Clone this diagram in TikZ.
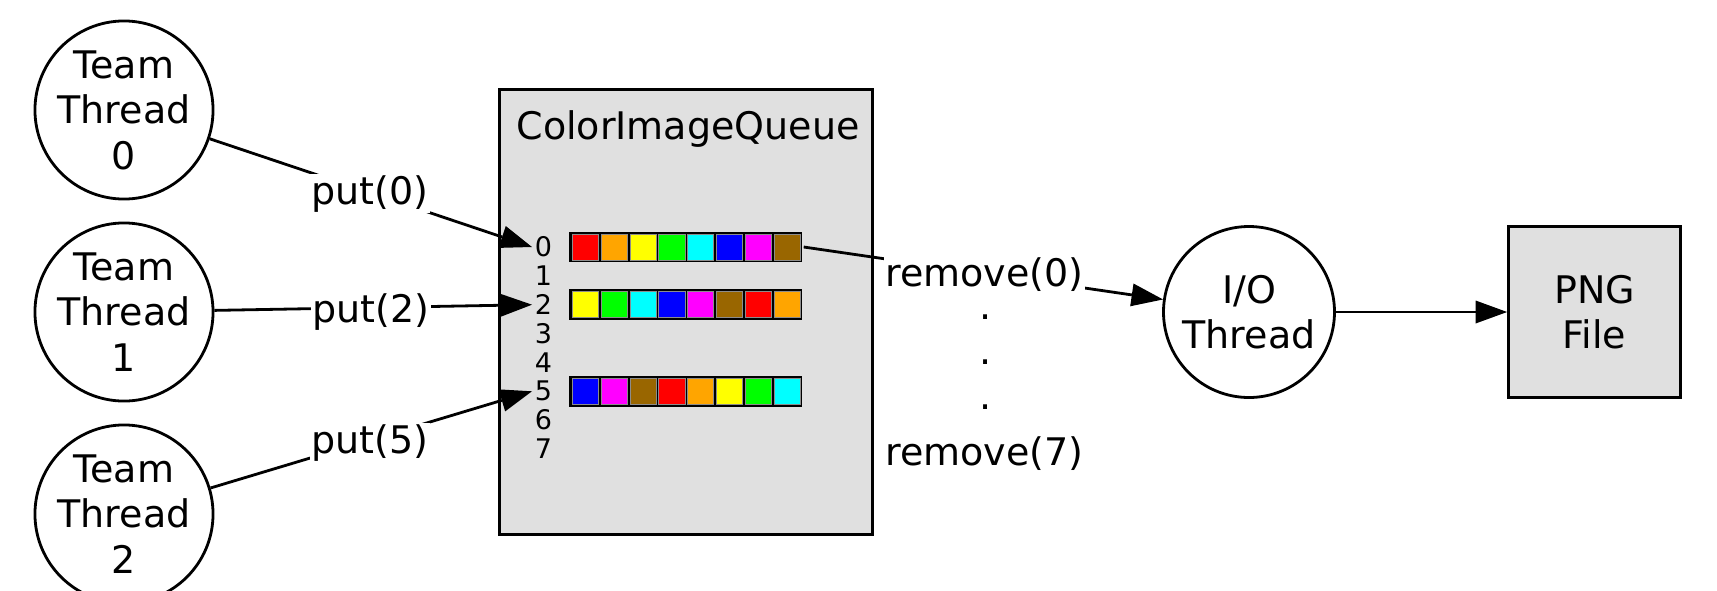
\documentclass[tikz,border=0pt]{standalone}
\usepackage{fontspec}
\setmainfont{DejaVu Sans}
\usetikzlibrary{arrows.meta}

\definecolor{qgray}{HTML}{E0E0E0}
\definecolor{cRed}{HTML}{FF0000}
\definecolor{cOrange}{HTML}{FFA500}
\definecolor{cYellow}{HTML}{FFFF00}
\definecolor{cGreen}{HTML}{00FF00}
\definecolor{cCyan}{HTML}{00FFFF}
\definecolor{cBlue}{HTML}{0000FF}
\definecolor{cMagenta}{HTML}{FF00FF}
\definecolor{cBrown}{HTML}{996600}

\begin{document}
\begin{tikzpicture}[x=1pt,y=-1pt,
  line width=2.8pt,
  bigfont/.style={font=\fontsize{38}{45.5}\selectfont},
  smallfont/.style={font=\fontsize{27}{29}\selectfont},
  thread/.style={circle,draw,minimum size=171pt,inner sep=0pt,align=center,bigfont},
  filebox/.style={rectangle,draw,fill=qgray,minimum width=172pt,minimum height=171pt,inner sep=0pt,align=center,bigfont},
  queuebox/.style={rectangle,draw,fill=qgray,minimum width=373pt,minimum height=445pt,inner sep=0pt},
  edgelabel/.style={fill=white,inner sep=1.5pt,bigfont},
  slotnum/.style={smallfont,inner sep=0pt,anchor=base},
  colorbar/.style={rectangle,fill=black,minimum width=233pt,minimum height=30.6pt,inner sep=0pt},
  cell/.style={draw=black!45,line width=0.8pt},
  flow/.style={-{Triangle[length=31.5pt,width=23pt,line width=0pt]}},
]
\useasboundingbox (0,0) rectangle (1717,590);

% producer threads
\node[thread] (t0) at (124,110) {Team\\Thread\\0};
\node[thread] (t1) at (124,312) {Team\\Thread\\1};
\node[thread] (t2) at (124,514) {Team\\Thread\\2};

% the queue with its eight slots
\node[queuebox] (queue) at (686,312) {};
\node[bigfont,anchor=base] (qtitle) at (688,139) {ColorImageQueue};
\foreach \k in {0,...,7}
  \node[slotnum] (n\k) at (543.5,256.7+28.85*\k) {\k};

\node[colorbar] (bar0) at (685.8,247) {};
\node[colorbar] (bar2) at (685.8,304.7) {};
\node[colorbar] (bar5) at (685.8,391.25) {};
\foreach \yc/\cols in {
    247/{cRed,cOrange,cYellow,cGreen,cCyan,cBlue,cMagenta,cBrown},
    304.7/{cYellow,cGreen,cCyan,cBlue,cMagenta,cBrown,cRed,cOrange},
    391.25/{cBlue,cMagenta,cBrown,cRed,cOrange,cYellow,cGreen,cCyan}}
  \foreach \c [count=\i from 0] in \cols
    \filldraw[cell,fill=\c] (572.2+28.86*\i,\yc-13) rectangle ++(26.2,26);

% slot ports
\coordinate (p0) at (532,247);
\coordinate (p2) at (532,304.7);
\coordinate (p5) at (532,391.3);

% consumer side
\node[thread] (io) at (1249,312) {I/O\\Thread};
\node[filebox] (png) at (1594.5,312) {PNG\\File};

% connectors
\draw[flow] (t0) -- (p0);
\draw[flow] (t1) -- (p2);
\draw[flow] (t2) -- (p5);
\draw[flow] (bar0.east) -- (io);
\draw[flow] (io) -- (png);

% connector labels
\node[edgelabel,anchor=base] (put0) at (370,204) {put(0)};
\node[edgelabel,anchor=base] (put2) at (371,322) {put(2)};
\node[edgelabel,anchor=base] (put5) at (370,453) {put(5)};
\node[edgelabel,anchor=base] (rem0) at (984.5,286) {remove(0)};
\node[bigfont,inner sep=0pt] (dot1) at (986,317) {.};
\node[bigfont,inner sep=0pt] (dot2) at (986,362) {.};
\node[bigfont,inner sep=0pt] (dot3) at (986,407) {.};
\node[bigfont,anchor=base] (rem7) at (984.5,465) {remove(7)};
\end{tikzpicture}
\end{document}
